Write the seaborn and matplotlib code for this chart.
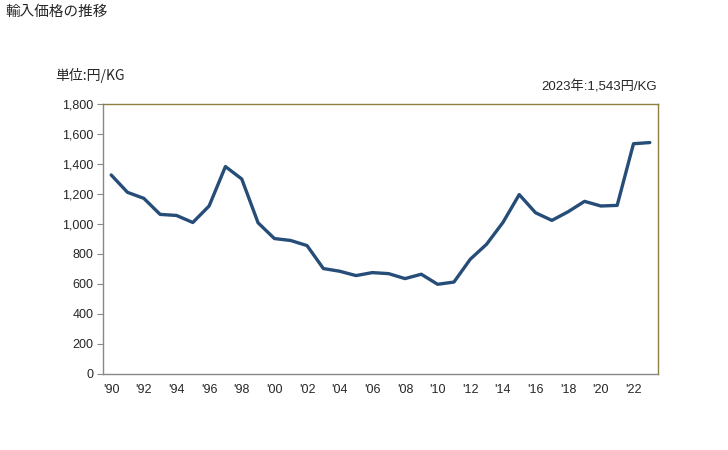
import matplotlib
matplotlib.use("Agg")
import matplotlib.pyplot as plt
import seaborn as sns
import pandas as pd
from matplotlib.ticker import FuncFormatter

# data
years = list(range(1990, 2024))
prices = [1327, 1211, 1171, 1064, 1057, 1010, 1120, 1383, 1300, 1008,
          903, 890, 856, 703, 685, 656, 676, 669, 636, 665,
          598, 613, 765, 865, 1010, 1196, 1075, 1024, 1082, 1151,
          1120, 1124, 1535, 1543]
tick_years = list(range(1990, 2023, 2))
tick_labels = ["'" + str(y)[2:] for y in tick_years]

df = pd.DataFrame({"year": years, "price": prices})

sns.set_style("white")
plt.rcParams['font.family'] = ['Liberation Sans', 'Noto Sans CJK JP', 'DejaVu Sans']

fig = plt.figure(figsize=(7.28, 4.5), dpi=100)
ax = fig.add_axes([0.1415, 0.1689, 0.7623, 0.6])

sns.lineplot(data=df, x="year", y="price", ax=ax, color="#264d78", linewidth=2.4)

ax.set_xlim(1989.5, 2023.5)
ax.set_ylim(0, 1800)
ax.set_xticks(tick_years)
ax.set_xticklabels(tick_labels)
ax.set_yticks(range(0, 1801, 200))
ax.yaxis.set_major_formatter(FuncFormatter(lambda v, p: f"{int(v):,}"))
ax.tick_params(axis="y", length=4, width=0.8, color="#888888", direction="out",
               labelsize=9, pad=3, left=True)
ax.tick_params(axis="x", length=0, labelsize=9, pad=7)
ax.set_xlabel("")
ax.set_ylabel("")

for s in ["left", "bottom"]:
    ax.spines[s].set_color("#888888")
    ax.spines[s].set_linewidth(1)
for s in ["top", "right"]:
    ax.spines[s].set_color("#8c7f3f")
    ax.spines[s].set_linewidth(1)

jp = ['Noto Sans CJK JP', 'DejaVu Sans']
fig.text(5 / 728, 1 - 12 / 450, "輸入価格の推移", fontsize=10.5, ha="left", va="center", family=jp)
fig.text(55 / 728, 1 - 75 / 450, "単位:円/KG", fontsize=10, ha="left", va="center", family=jp)
fig.text(657 / 728, 1 - 87 / 450, "2023年:1,543円/KG", fontsize=9.5, ha="right", va="center",
         family=['Liberation Sans', 'Noto Sans CJK JP'])

fig.savefig("out.png", dpi=100)
